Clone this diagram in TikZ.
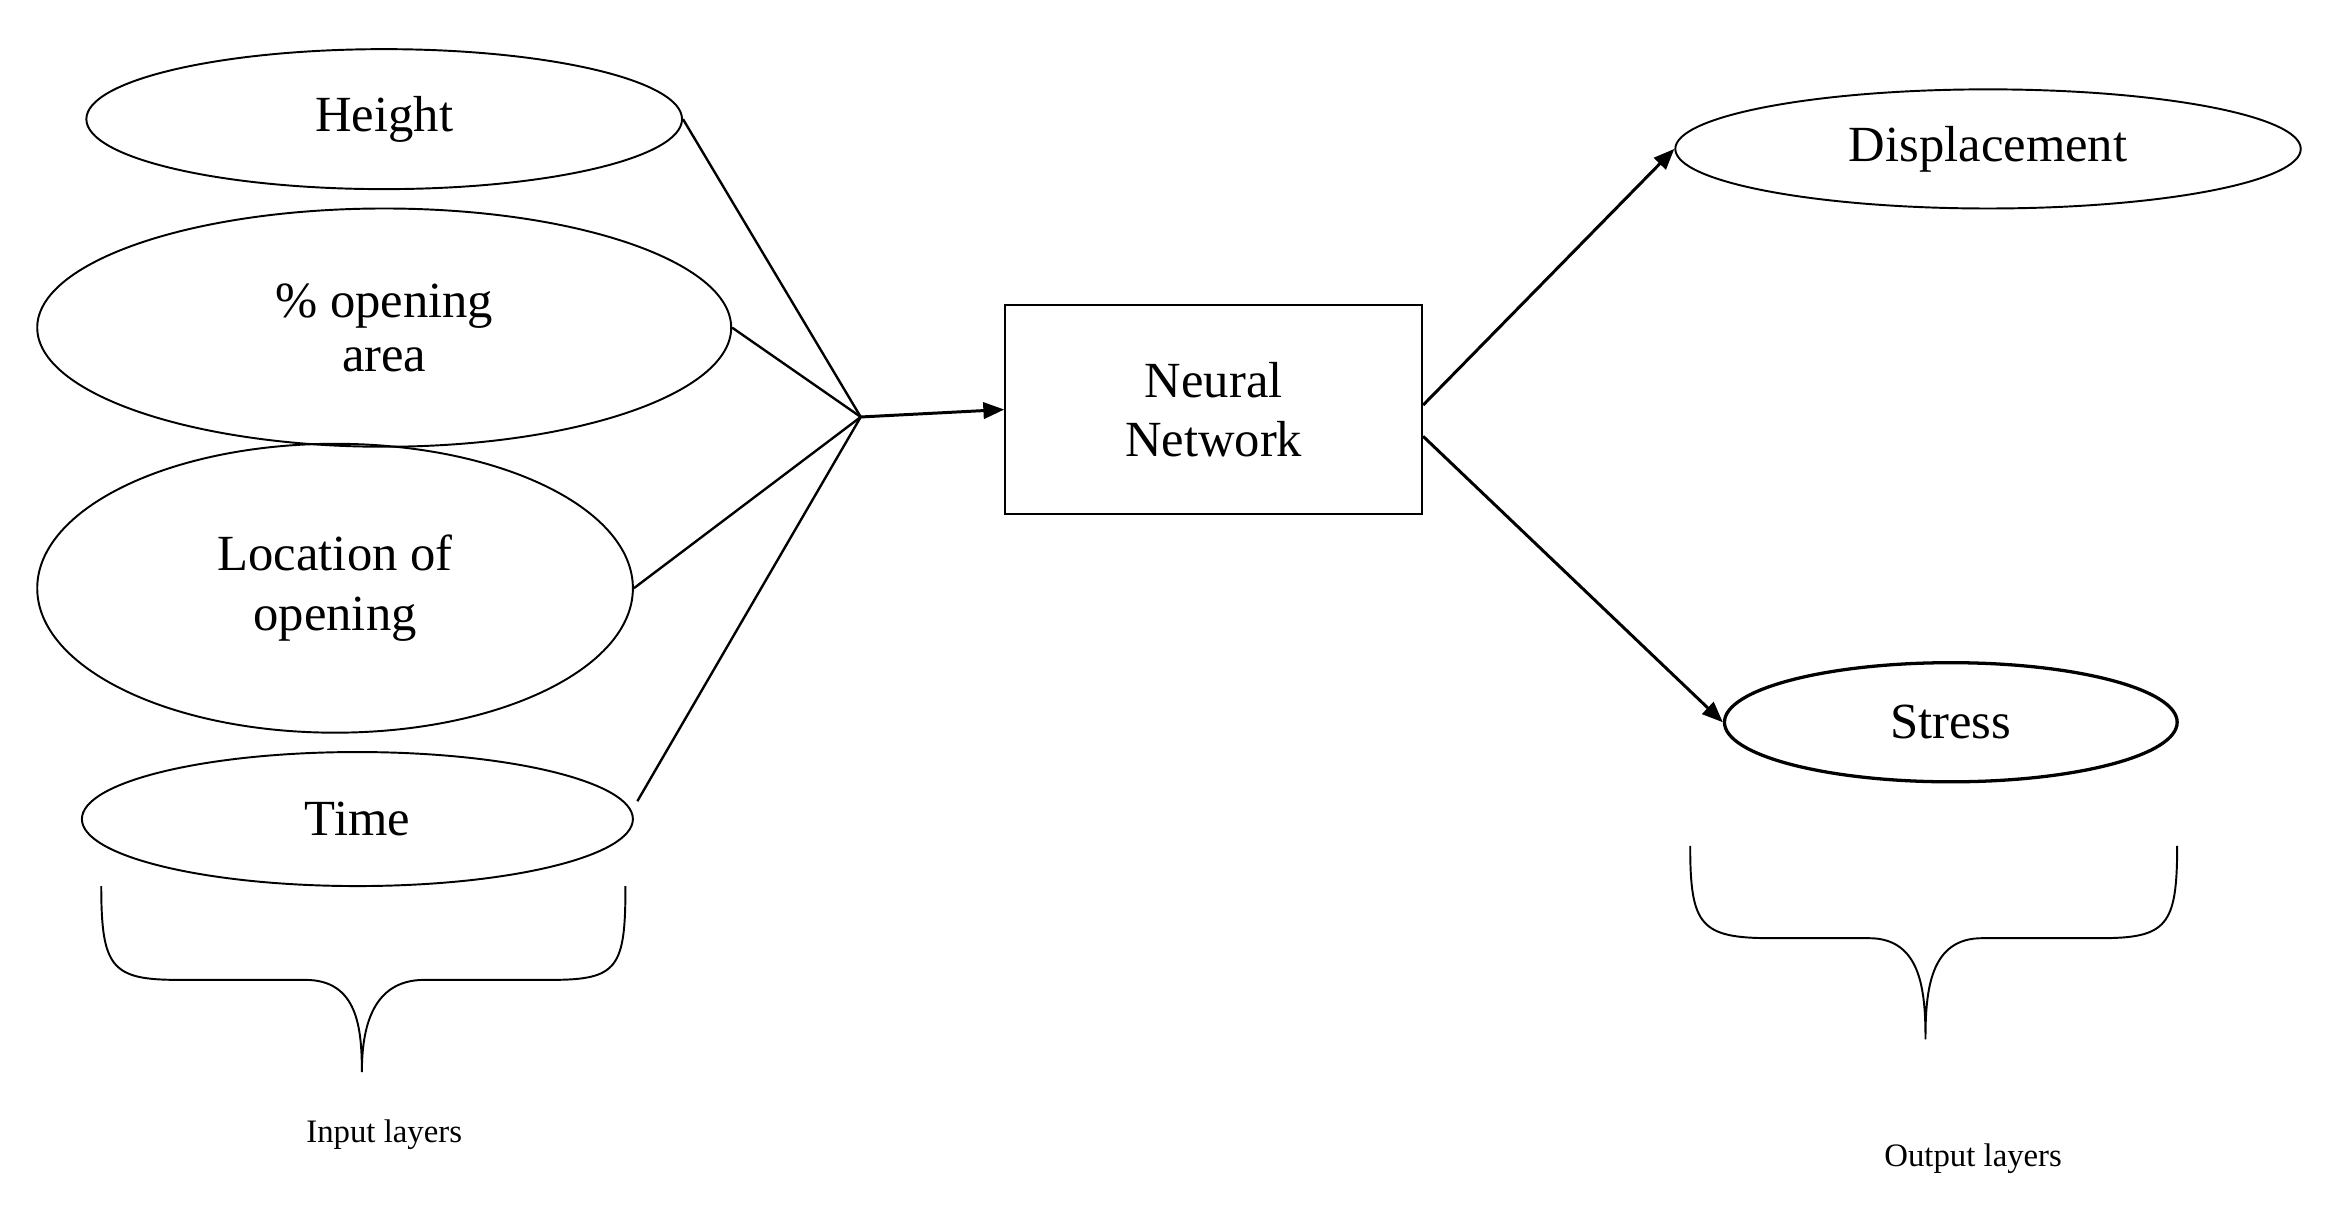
\documentclass[tikz,border=0pt]{standalone}
\usepackage{fontspec}
\setmainfont{Liberation Serif}
\usetikzlibrary{shapes.geometric,arrows.meta}
\begin{document}
\begin{tikzpicture}[x=1pt,y=-1pt,
  ell/.style={ellipse,draw,line width=1.3pt,inner sep=0pt,font=\fontsize{34}{40}\selectfont,align=center},
  con/.style={line width=1.6pt},
  arr/.style={line width=2pt,-{Triangle[length=14pt,width=11pt]}},
  lbl/.style={font=\fontsize{22}{26}\selectfont},
  br/.style={line width=1.3pt}]
\useasboundingbox (0,0) rectangle (1568,812);
\node[ell,minimum width=400,minimum height=94] (h) at (258,80) {Height};
\node[ell,minimum width=466,minimum height=160] (o) at (258,220) {\% opening\\[-4pt]area};
\node[ell,minimum width=400,minimum height=194] (l) at (225,395) {Location of\\opening};
\node[ell,minimum width=370,minimum height=90] (t) at (240,550) {Time};
\coordinate (j) at (578,280);
\node[draw,line width=1.3pt,minimum width=280,minimum height=140,align=center,font=\fontsize{34}{40}\selectfont] (nn) at (815,275) {Neural\\Network};
\node[ell,minimum width=420,minimum height=80] (d) at (1335,100) {Displacement};
\node[ell,line width=2.2pt,minimum width=304,minimum height=80] (s) at (1310,485) {Stress};
\draw[con] (h.east) -- (j);
\draw[con] (o.east) -- (j);
\draw[con] (l.east) -- (j);
\draw[con] (428,538) -- (j);
\draw[arr] (j) -- (nn.west);
\draw[arr] (nn.east) ++(0,-3) -- (d.west);
\draw[arr] (nn.east) ++(0,18) -- (s.west);
\draw[br] (68,595) .. controls (68,650) and (75,658) .. (120,658) -- (205,658) .. controls (240,658) and (243,690) .. (243,720)
  .. controls (243,690) and (250,658) .. (285,658) -- (370,658) .. controls (415,658) and (420,650) .. (420,595);
\draw[br] (1135,568) .. controls (1135,622) and (1142,630) .. (1190,630) -- (1255,630) .. controls (1290,630) and (1293,665) .. (1293,698)
  .. controls (1293,665) and (1296,630) .. (1331,630) -- (1410,630) .. controls (1455,630) and (1462,622) .. (1462,568);
\node[lbl] (il) at (258,762) {Input layers};
\node[lbl] (ol) at (1325,778) {Output layers};
\end{tikzpicture}
\end{document}
